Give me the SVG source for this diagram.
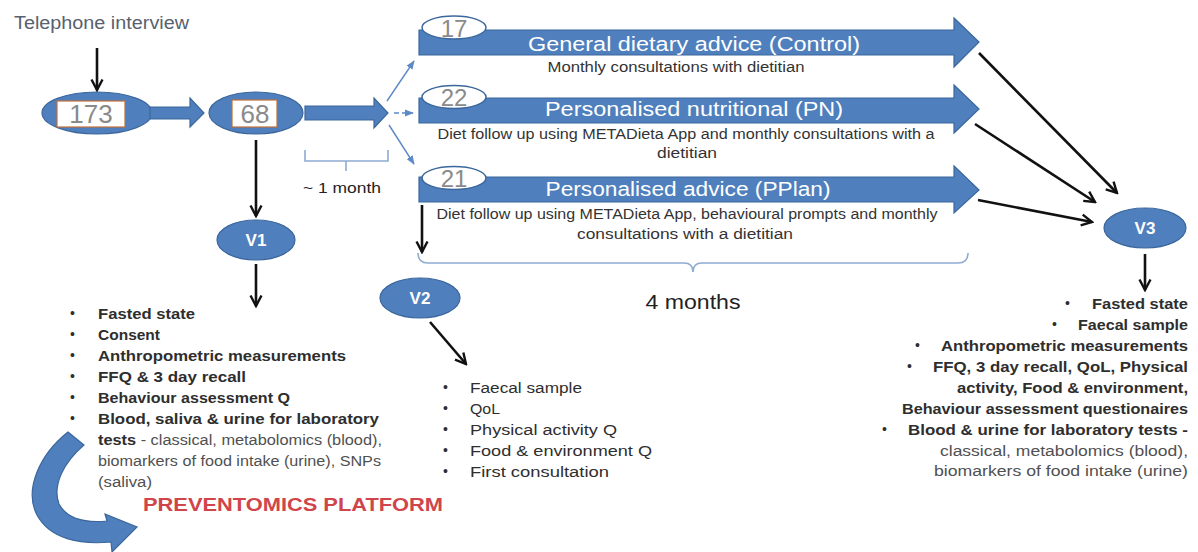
<svg xmlns="http://www.w3.org/2000/svg" width="1198" height="552" viewBox="0 0 1198 552">
<style>
  .bg{fill:#ffffff}
  .blue{fill:#4f7fbd;stroke:#3b679c;stroke-width:1.2}
  .num{font-family:"Liberation Sans",Arial,sans-serif;fill:#8a8a8a;text-anchor:middle}
  .vt{font-family:"Liberation Sans",Arial,sans-serif;font-size:17px;font-weight:bold;fill:#ffffff;text-anchor:middle}
  .title{font-family:"Liberation Sans",Arial,sans-serif;font-size:20px;fill:#ffffff;text-anchor:middle}
  .sub{font-family:"Liberation Sans",Arial,sans-serif;font-size:14px;fill:#333333;text-anchor:middle}
  .li{font-family:"Liberation Sans",Arial,sans-serif;font-size:15.5px;font-weight:bold;fill:#2e2e2e}
  .lr{font-family:"Liberation Sans",Arial,sans-serif;font-size:15.5px;fill:#505050}
  .v2{font-family:"Liberation Sans",Arial,sans-serif;font-size:15.5px;fill:#2e2e2e}
  .bul{font-family:"Liberation Sans",Arial,sans-serif;font-size:14px;fill:#2e2e2e}
  .blk{stroke:#111;stroke-width:2.6;fill:none}
  .thin{stroke:#5b8ac6;stroke-width:1.4;fill:none}
  .brk{stroke:#8eabd0;stroke-width:1.6;fill:none}
</style>
<defs>
  <marker id="ah" viewBox="0 0 14 14" refX="12" refY="7" markerWidth="14" markerHeight="14" markerUnits="userSpaceOnUse" orient="auto">
    <path d="M1.5,1.5 L12,7 L1.5,12.5" fill="none" stroke="#111" stroke-width="2.4"/>
  </marker>
  <marker id="bh" viewBox="0 0 10 10" refX="9" refY="5" markerWidth="9" markerHeight="9" markerUnits="userSpaceOnUse" orient="auto">
    <path d="M0,1 L10,5 L0,9 Z" fill="#5b8ac6"/>
  </marker>
</defs>
<rect class="bg" x="0" y="0" width="1198" height="552"/>

<g id="telephone">
  <text x="14" y="29" font-family="'Liberation Sans',Arial,sans-serif" font-size="17.5" fill="#58616e" textLength="175" lengthAdjust="spacingAndGlyphs">Telephone interview</text>
</g>

<g id="n173">
  <ellipse class="blue" cx="97" cy="113" rx="55" ry="21"/>
  <rect x="57" y="101" width="68" height="26" fill="#ffffff" stroke="#c0703a" stroke-width="1.2"/>
  <text class="num" x="91" y="123" font-size="26">173</text>
</g>

<g id="n68">
  <ellipse class="blue" cx="256" cy="113" rx="47" ry="21"/>
  <rect x="232" y="100" width="45" height="27" fill="#ffffff" stroke="#c0703a" stroke-width="1.2"/>
  <text class="num" x="255" y="123" font-size="26">68</text>
</g>

<g id="control">
  <path class="blue" d="M419,30 L954,30 L954,18 L979,42 L954,67 L954,55 L419,55 Z"/>
  <ellipse cx="454" cy="27.5" rx="32" ry="11.5" fill="#ffffff" stroke="#3b679c" stroke-width="1.5"/>
  <text class="num" x="454" y="37" font-size="24">17</text>
  <text class="title" x="694" y="51" textLength="332" lengthAdjust="spacingAndGlyphs">General dietary advice (Control)</text>
  <text class="sub" x="676" y="72" textLength="257" lengthAdjust="spacingAndGlyphs">Monthly consultations with dietitian</text>
</g>

<g id="pn">
  <path class="blue" d="M419,98 L954,98 L954,85 L979,109 L954,133 L954,123 L419,123 Z"/>
  <ellipse cx="454" cy="97" rx="32" ry="11.5" fill="#ffffff" stroke="#3b679c" stroke-width="1.5"/>
  <text class="num" x="454" y="106" font-size="24">22</text>
  <text class="title" x="694" y="116" textLength="298" lengthAdjust="spacingAndGlyphs">Personalised nutritional (PN)</text>
  <text class="sub" x="686" y="139" textLength="497" lengthAdjust="spacingAndGlyphs">Diet follow up using METADieta App and monthly consultations with a</text>
  <text class="sub" x="687" y="158" textLength="60" lengthAdjust="spacingAndGlyphs">dietitian</text>
</g>

<g id="pplan">
  <path class="blue" d="M419,177 L954,177 L954,166 L979,190 L954,213 L954,202 L419,202 Z"/>
  <ellipse cx="454" cy="178" rx="32" ry="11.5" fill="#ffffff" stroke="#3b679c" stroke-width="1.5"/>
  <text class="num" x="454" y="187" font-size="24">21</text>
  <text class="title" x="688" y="196" textLength="285" lengthAdjust="spacingAndGlyphs">Personalised advice (PPlan)</text>
  <text class="sub" x="687" y="219" textLength="501" lengthAdjust="spacingAndGlyphs">Diet follow up using METADieta App, behavioural prompts and monthly</text>
  <text class="sub" x="685" y="239" textLength="216" lengthAdjust="spacingAndGlyphs">consultations with a dietitian</text>
</g>

<g id="v1">
  <ellipse class="blue" cx="256" cy="240" rx="39" ry="20"/>
  <text class="vt" x="256" y="246">V1</text>
</g>

<g id="v2">
  <ellipse class="blue" cx="420" cy="298" rx="40" ry="20"/>
  <text class="vt" x="420" y="304">V2</text>
</g>

<g id="v3">
  <ellipse class="blue" cx="1145" cy="228" rx="41" ry="20"/>
  <text class="vt" x="1145" y="234">V3</text>
</g>

<g id="month1">
  <path class="brk" d="M305,150 L305,161 L388,161 L388,150 M346,161 L346,171"/>
  <text x="303" y="193" font-family="'Liberation Sans',Arial,sans-serif" font-size="15" fill="#222" textLength="78" lengthAdjust="spacingAndGlyphs">~ 1 month</text>
</g>

<g id="months4">
  <path class="brk" d="M418,253 Q418,263 428,263 L684,263 Q693,263 693,272 Q693,263 702,263 L958,263 Q968,263 968,253"/>
  <text x="693" y="309" font-family="'Liberation Sans',Arial,sans-serif" font-size="19.5" fill="#222" text-anchor="middle" textLength="95" lengthAdjust="spacingAndGlyphs">4 months</text>
</g>

<g id="v1list">
  <text class="bul" x="70" y="318">•</text>
  <text class="bul" x="70" y="339">•</text>
  <text class="bul" x="70" y="360">•</text>
  <text class="bul" x="70" y="381">•</text>
  <text class="bul" x="70" y="402">•</text>
  <text class="bul" x="70" y="423">•</text>
  <text class="li" x="98" y="319" textLength="97" lengthAdjust="spacingAndGlyphs">Fasted state</text>
  <text class="li" x="98" y="340" textLength="62" lengthAdjust="spacingAndGlyphs">Consent</text>
  <text class="li" x="98" y="361" textLength="248" lengthAdjust="spacingAndGlyphs">Anthropometric measurements</text>
  <text class="li" x="98" y="382" textLength="148" lengthAdjust="spacingAndGlyphs">FFQ &amp; 3 day recall</text>
  <text class="li" x="98" y="403" textLength="192" lengthAdjust="spacingAndGlyphs">Behaviour assessment Q</text>
  <text class="li" x="98" y="424" textLength="281" lengthAdjust="spacingAndGlyphs">Blood, saliva &amp; urine for laboratory</text>
  <text x="98" y="445" textLength="284" lengthAdjust="spacingAndGlyphs"><tspan class="li">tests</tspan><tspan class="lr"> - classical, metabolomics (blood),</tspan></text>
  <text class="lr" x="98" y="466" textLength="283" lengthAdjust="spacingAndGlyphs">biomarkers of food intake (urine), SNPs</text>
  <text class="lr" x="98" y="487" textLength="54" lengthAdjust="spacingAndGlyphs">(saliva)</text>
</g>

<g id="v2list">
  <text class="bul" x="443" y="392">•</text>
  <text class="bul" x="443" y="413">•</text>
  <text class="bul" x="443" y="434">•</text>
  <text class="bul" x="443" y="455">•</text>
  <text class="bul" x="443" y="476">•</text>
  <text class="v2" x="470" y="393" textLength="112" lengthAdjust="spacingAndGlyphs">Faecal sample</text>
  <text class="v2" x="470" y="414" textLength="30" lengthAdjust="spacingAndGlyphs">QoL</text>
  <text class="v2" x="470" y="435" textLength="147" lengthAdjust="spacingAndGlyphs">Physical activity Q</text>
  <text class="v2" x="470" y="456" textLength="182" lengthAdjust="spacingAndGlyphs">Food &amp; environment Q</text>
  <text class="v2" x="470" y="477" textLength="139" lengthAdjust="spacingAndGlyphs">First consultation</text>
</g>

<g id="v3list">
  <text class="bul" x="1065" y="308">•</text>
  <text class="bul" x="1052" y="329">•</text>
  <text class="bul" x="915" y="350">•</text>
  <text class="bul" x="907" y="371">•</text>
  <text class="bul" x="882" y="434">•</text>
  <text class="li" x="1188" y="309" text-anchor="end" textLength="96" lengthAdjust="spacingAndGlyphs">Fasted state</text>
  <text class="li" x="1188" y="330" text-anchor="end" textLength="110" lengthAdjust="spacingAndGlyphs">Faecal sample</text>
  <text class="li" x="1188" y="351" text-anchor="end" textLength="247" lengthAdjust="spacingAndGlyphs">Anthropometric measurements</text>
  <text class="li" x="1188" y="372" text-anchor="end" textLength="255" lengthAdjust="spacingAndGlyphs">FFQ, 3 day recall, QoL, Physical</text>
  <text class="li" x="1188" y="393" text-anchor="end" textLength="231" lengthAdjust="spacingAndGlyphs">activity, Food &amp; environment,</text>
  <text class="li" x="1188" y="414" text-anchor="end" textLength="286" lengthAdjust="spacingAndGlyphs">Behaviour assessment questionaires</text>
  <text class="li" x="1188" y="435" text-anchor="end" textLength="280" lengthAdjust="spacingAndGlyphs">Blood &amp; urine for laboratory tests -</text>
  <text class="lr" x="1188" y="456" text-anchor="end" textLength="248" lengthAdjust="spacingAndGlyphs">classical, metabolomics (blood),</text>
  <text class="lr" x="1188" y="476" text-anchor="end" textLength="254" lengthAdjust="spacingAndGlyphs">biomarkers of food intake (urine)</text>
</g>

<g id="platform">
  <path class="blue" d="M68,432 L84,445 C64,462 52,485 59,504 C67,519 86,523 107,521 L105,514 L137,527 L112,552 L111,542 C80,545 50,539 37,515 C24,490 39,455 68,432 Z"/>
  <text x="143" y="511" font-family="'Liberation Sans',Arial,sans-serif" font-size="19" font-weight="bold" fill="#d0454a" textLength="300" lengthAdjust="spacingAndGlyphs">PREVENTOMICS PLATFORM</text>
</g>

<g id="connectors">
  <line class="blk" x1="97" y1="48" x2="97" y2="90" marker-end="url(#ah)"/>
  <path class="blue" d="M150,107 L190,107 L190,98 L204,113 L190,127 L190,119 L150,119 Z"/>
  <path class="blue" d="M305,106 L374,106 L374,98 L388,113 L374,128 L374,120 L305,120 Z"/>
  <line class="thin" x1="387" y1="101" x2="414" y2="61" marker-end="url(#bh)"/>
  <line class="thin" x1="394" y1="113" x2="413" y2="113" stroke-dasharray="5,3" marker-end="url(#bh)"/>
  <line class="thin" x1="389" y1="125" x2="414" y2="164" marker-end="url(#bh)"/>
  <line class="blk" x1="256" y1="140" x2="256" y2="216" marker-end="url(#ah)"/>
  <line class="blk" x1="256" y1="264" x2="256" y2="306" marker-end="url(#ah)"/>
  <line class="blk" x1="422" y1="205" x2="422" y2="252" marker-end="url(#ah)"/>
  <line class="blk" x1="430" y1="322" x2="466" y2="364" marker-end="url(#ah)"/>
  <line class="blk" x1="979" y1="53" x2="1117" y2="193" marker-end="url(#ah)"/>
  <line class="blk" x1="975" y1="124" x2="1095" y2="202" marker-end="url(#ah)"/>
  <line class="blk" x1="978" y1="200" x2="1092" y2="222" marker-end="url(#ah)"/>
  <line class="blk" x1="1145" y1="254" x2="1145" y2="290" marker-end="url(#ah)"/>
</g>
</svg>
